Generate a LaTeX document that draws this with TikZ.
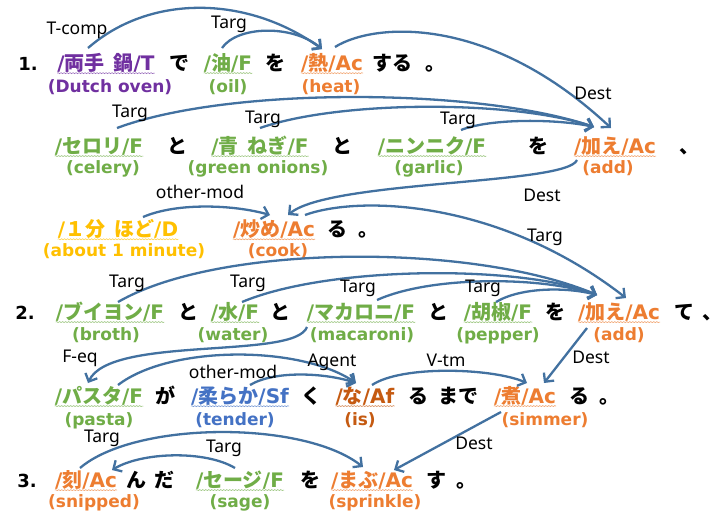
\documentclass[tikz,border=0pt]{standalone}
\usepackage{fontspec}
\setmainfont{DejaVu Sans}
\newfontfamily\jp{Noto Sans CJK JP}
\newfontfamily\lb{Noto Sans}
\usetikzlibrary{arrows.meta,decorations.pathmorphing}
\definecolor{cpur}{RGB}{112,48,160}
\definecolor{cgrn}{RGB}{112,173,71}
\definecolor{corg}{RGB}{237,125,49}
\definecolor{cgld}{RGB}{255,192,0}
\definecolor{cblu}{RGB}{68,114,196}
\definecolor{cbrn}{RGB}{197,90,17}
\definecolor{acol}{RGB}{66,113,160}
\newcommand\tk[2]{/{\jp #1}/#2}
\begin{document}
\begin{tikzpicture}[x=1pt,y=-1pt,
 tok/.style={anchor=base,inner sep=0pt,font=\fontsize{20}{24}\selectfont\bfseries},
 jpn/.style={anchor=base,inner sep=0pt,font=\fontsize{20}{24}\selectfont\bfseries\jp},
 gl/.style={anchor=base,inner sep=0pt,font=\fontsize{17}{20}\selectfont\bfseries},
 lab/.style={inner sep=0pt,font=\fontsize{17.5}{20}\selectfont\lb},
 num/.style={anchor=base,inner sep=0pt,font=\fontsize{18}{22}\selectfont\bfseries},
 arr/.style={draw=acol,line width=2.3pt,-{Straight Barb[length=6.5pt,width=13pt]}},
 ul/.style={line width=0.6pt,decorate,decoration={snake,amplitude=0.5pt,segment length=3pt}}]
\fill[white] (0,0) rectangle (727,515);
\useasboundingbox (0,0) rectangle (727,515);
% ---------- row 1
\node[num] (n1) at (28,70) {1.};
\node[tok,text=cpur] (t11) at (106,70) {\tk{両手\hspace{0.45em}鍋}{T}};
\node[jpn] (p11) at (179,70) {で};
\node[tok,text=cgrn] (t12) at (228,70) {\tk{油}{F}};
\node[jpn] (p12) at (275,70) {を};
\node[tok,text=corg] (t13) at (332,70) {\tk{熱}{Ac}};
\node[jpn] (p13) at (392,70) {する};
\node[jpn] (p14) at (435,70) {。};
\node[gl,text=cpur] (g11) at (110,92) {(Dutch oven)};
\node[gl,text=cgrn] (g12) at (228,92) {(oil)};
\node[gl,text=corg] (g13) at (331,92) {(heat)};
% ---------- row 2
\node[tok,text=cgrn] (t21) at (99,153) {\tk{セロリ}{F}};
\node[jpn] (p21) at (177,153) {と};
\node[tok,text=cgrn] (t22) at (260,153) {\tk{青\hspace{0.45em}ねぎ}{F}};
\node[jpn] (p22) at (342,153) {と};
\node[tok,text=cgrn] (t23) at (432,153) {\tk{ニンニク}{F}};
\node[jpn] (p23) at (538,153) {を};
\node[tok,text=corg] (t24) at (615,153) {\tk{加え}{Ac}};
\node[jpn] (p24) at (689,153) {、};
\node[gl,text=cgrn] (g21) at (103,173) {(celery)};
\node[gl,text=cgrn] (g22) at (258,173) {(green onions)};
\node[gl,text=cgrn] (g23) at (429,173) {(garlic)};
\node[gl,text=corg] (g24) at (608,173) {(add)};
% ---------- row 3
\node[tok,text=cgld] (t31) at (118,236) {\tk{１分\hspace{0.45em}ほど}{D}};
\node[tok,text=corg] (t32) at (274,236) {\tk{炒め}{Ac}};
\node[jpn] (p31) at (337,236) {る};
\node[jpn] (p32) at (368,236) {。};
\node[gl,text=cgld] (g31) at (124,256) {(about 1 minute)};
\node[gl,text=corg] (g32) at (278,256) {(cook)};
% ---------- row 4
\node[num] (n2) at (25,319) {2.};
\node[tok,text=cgrn] (t41) at (110,319) {\tk{ブイヨン}{F}};
\node[jpn] (p41) at (188,319) {と};
\node[tok,text=cgrn] (t42) at (235,319) {\tk{水}{F}};
\node[jpn] (p42) at (280,319) {と};
\node[tok,text=cgrn] (t43) at (361,319) {\tk{マカロニ}{F}};
\node[jpn] (p43) at (438,319) {と};
\node[tok,text=cgrn] (t44) at (498,319) {\tk{胡椒}{F}};
\node[jpn] (p44) at (555,319) {を};
\node[tok,text=corg] (t45) at (619,319) {\tk{加え}{Ac}};
\node[jpn] (p45) at (684,319) {て};
\node[jpn] (p46) at (712,319) {、};
\node[gl,text=cgrn] (g41) at (106,340) {(broth)};
\node[gl,text=cgrn] (g42) at (233,340) {(water)};
\node[gl,text=cgrn] (g43) at (362,340) {(macaroni)};
\node[gl,text=cgrn] (g44) at (498,340) {(pepper)};
\node[gl,text=corg] (g45) at (619,340) {(add)};
% ---------- row 5
\node[tok,text=cgrn] (t51) at (99,403) {\tk{パスタ}{F}};
\node[jpn] (p51) at (165,403) {が};
\node[tok,text=cblu] (t52) at (240,403) {\tk{柔らか}{Sf}};
\node[jpn] (p52) at (311,403) {く};
\node[tok,text=cbrn] (t53) at (365,403) {\tk{な}{Af}};
\node[jpn] (p53) at (418,403) {る};
\node[jpn] (p54) at (458,403) {まで};
\node[tok,text=corg] (t54) at (525,403) {\tk{煮}{Ac}};
\node[jpn] (p55) at (579,403) {る};
\node[jpn] (p56) at (609,403) {。};
\node[gl,text=cgrn] (g51) at (99,425) {(pasta)};
\node[gl,text=cblu] (g52) at (235,425) {(tender)};
\node[gl,text=cbrn] (g53) at (360,425) {(is)};
\node[gl,text=corg] (g54) at (545,425) {(simmer)};
% ---------- row 6
\node[num] (n3) at (27,487) {3.};
\node[tok,text=corg] (t61) at (86,487) {\tk{刻}{Ac}};
\node[jpn] (p61) at (136,487) {ん};
\node[jpn] (p62) at (164,487) {だ};
\node[tok,text=cgrn] (t62) at (240,487) {\tk{セージ}{F}};
\node[jpn] (p63) at (310,487) {を};
\node[tok,text=corg] (t63) at (372,487) {\tk{まぶ}{Ac}};
\node[jpn] (p64) at (436,487) {す};
\node[jpn] (p65) at (466,487) {。};
\node[gl,text=corg] (g61) at (94,507) {(snipped)};
\node[gl,text=cgrn] (g62) at (240,507) {(sage)};
\node[gl,text=corg] (g63) at (375,507) {(sprinkle)};
% ---------- underlines
\foreach \n/\c in {t11/cpur,t12/cgrn,t13/corg,t21/cgrn,t22/cgrn,t23/cgrn,t24/corg,
  t31/cgld,t32/corg,t41/cgrn,t42/cgrn,t43/cgrn,t44/cgrn,t45/corg,
  t51/cgrn,t52/cblu,t53/cbrn,t54/corg,t61/corg,t62/cgrn,t63/corg}
  \draw[ul,draw=\c!70] ([shift={(0,1)}]\n.south west) -- ([shift={(0,1)}]\n.south east);
% ---------- connectors
\draw[arr] ([shift={(-18,-22)}]t11.base) .. controls +(62,-54) and +(-75,-54) .. ([shift={(-10,-21)}]t13.base);
\draw[arr] ([shift={(-6,-22)}]t12.base) .. controls +(15,-22) and +(-30,-25) .. ([shift={(-10,-21)}]t13.base);
\draw[arr] ([shift={(3,-23)}]t13.base) .. controls +(40,-25) and +(-121,-113) .. ([shift={(-4,-25)}]t24.base);
\draw[arr] ([shift={(18,-25)}]t21.base) .. controls +(113,-42) and +(-114,-39) .. ([shift={(-21,-26)}]t24.base);
\draw[arr] ([shift={(0,-25)}]t22.base) .. controls +(80,-28) and +(-80,-27) .. ([shift={(-21,-26)}]t24.base);
\draw[arr] ([shift={(29,-23)}]t23.base) .. controls +(30,-12) and +(-35,-8) .. ([shift={(-21,-26)}]t24.base);
\draw[arr] ([shift={(25,-19)}]t31.base) .. controls +(35,-15) and +(-35,-10) .. ([shift={(-4,-21)}]t32.base);
\draw[arr] ([shift={(-38,7)}]t24.base) .. controls +(-10,25) and +(42,-35) .. ([shift={(14,-21)}]t32.base);
\draw[arr] ([shift={(31,-21)}]t32.base) .. controls +(55,-20) and +(-126,-98) .. ([shift={(7,-21)}]t45.base);
\draw[arr] ([shift={(8,-17)}]t41.base) .. controls +(102,-59) and +(-122,-52) .. ([shift={(-22,-24)}]t45.base);
\draw[arr] ([shift={(7,-17)}]t42.base) .. controls +(88,-37) and +(-73,-30) .. ([shift={(-22,-24)}]t45.base);
\draw[arr] ([shift={(16,-19)}]t43.base) .. controls +(53,-24) and +(-57,-19) .. ([shift={(-22,-24)}]t45.base);
\draw[arr] ([shift={(-2,-17)}]t44.base) .. controls +(25,-15) and +(-30,-8) .. ([shift={(-22,-24)}]t45.base);
\draw[arr] ([shift={(-54,8)}]t43.base) .. controls +(-12,33) and +(22,-48) .. ([shift={(-11,-20)}]t51.base);
\draw[arr] ([shift={(19,-18)}]t51.base) .. controls +(52,-40) and +(-56,-38) .. ([shift={(-9,-20)}]t53.base);
\draw[arr] ([shift={(10,-18)}]t52.base) .. controls +(25,-15) and +(-30,-10) .. ([shift={(-9,-20)}]t53.base);
\draw[arr] ([shift={(7,-18)}]t53.base) .. controls +(30,-20) and +(-35,-15) .. ([shift={(2,-20)}]t54.base);
\draw[arr] ([shift={(-32,9)}]t45.base) -- ([shift={(19,-20)}]t54.base);
\draw[arr] ([shift={(-6,-19)}]t61.base) .. controls +(55,-47) and +(-60,-47) .. ([shift={(-9,-20)}]t63.base);
\draw[arr] ([shift={(-5,-19)}]t62.base) .. controls +(-30,-18) and +(30,-18) .. ([shift={(26,-17)}]t61.base);
\draw[arr] ([shift={(-24,9)}]t54.base) -- ([shift={(22,-17)}]t63.base);
% ---------- connector labels
\node[lab] (l1) at (77,30) {T-comp};
\node[lab] (l2) at (229,24) {Targ};
\node[lab] (l3) at (593,93) {Dest};
\node[lab] (l4) at (130,113) {Targ};
\node[lab] (l5) at (263,119) {Targ};
\node[lab] (l6) at (458,120) {Targ};
\node[lab] (l7) at (200,192) {other-mod};
\node[lab] (l8) at (542,195) {Dest};
\node[lab] (l9) at (545,237) {Targ};
\node[lab] (l10) at (127,283) {Targ};
\node[lab] (l11) at (248,283) {Targ};
\node[lab] (l12) at (358,288) {Targ};
\node[lab] (l13) at (483,288) {Targ};
\node[lab] (l14) at (80,358) {F-eq};
\node[lab] (l15) at (332,362) {Agent};
\node[lab] (l16) at (233,372) {other-mod};
\node[lab] (l17) at (446,360) {V-tm};
\node[lab] (l18) at (591,357) {Dest};
\node[lab] (l19) at (102,438) {Targ};
\node[lab] (l20) at (224,448) {Targ};
\node[lab] (l21) at (474,443) {Dest};
\end{tikzpicture}
\end{document}
